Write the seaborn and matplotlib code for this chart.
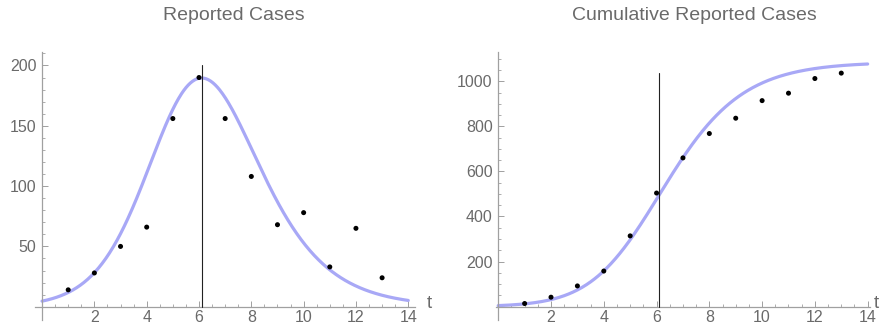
import numpy as np
import pandas as pd
import matplotlib
matplotlib.use("Agg")
import matplotlib.pyplot as plt
import seaborn as sns

# ---- data ----
days = [1, 2, 3, 4, 5, 6, 7, 8, 9, 10, 11, 12, 13]
reported = [14, 28, 50, 66, 156, 190, 156, 108, 68, 78, 33, 65, 24]
cumulative = [14, 42, 92, 158, 314, 504, 660, 768, 836, 914, 947, 1012, 1036]

# fitted growth-model parameters (Richards curve) estimated from the drawn curves
K_FIT = 1085.0     # final size
R_FIT = 1.02       # early growth rate
NU_FIT = 0.6       # shape parameter
TM_FIT = 6.1       # inflection / peak time

peak_time = 6.1
vline_top_left = 200
vline_top_right = 1035

x_major = [2, 4, 6, 8, 10, 12, 14]
y_major_left = [50, 100, 150, 200]
y_major_right = [200, 400, 600, 800, 1000]

titles = ["Reported Cases", "Cumulative Reported Cases"]

# ---- model curves ----
t_grid = np.linspace(0, 14, 500)
u = 1 + NU_FIT * np.exp(-R_FIT * NU_FIT * (t_grid - TM_FIT))
C_curve = K_FIT * u ** (-1 / NU_FIT)
f_curve = R_FIT * C_curve * (1 - 1 / u)

pts = pd.DataFrame({"t": days, "reported": reported, "cumulative": cumulative})
curves = pd.DataFrame({"t": t_grid, "f": f_curve, "C": C_curve})

sns.set_style("white")
plt.rcParams["font.family"] = ["Liberation Sans", "DejaVu Sans"]

CURVE_COLOR = "#a8a8f6"
AXIS_COLOR = "#a0a0a0"
TEXT_COLOR = "#6a6a6a"

W, H = 891, 335
fig = plt.figure(figsize=(W / 100, H / 100), dpi=100)

axL = fig.add_axes([35 / W, (H - 320) / H, (414.8 - 35) / W, (320 - 52.2) / H])
axR = fig.add_axes([495.6 / W, (H - 320.2) / H, (870.3 - 495.6) / W, (320.2 - 51.7) / H])


def style_axis(ax, xlim, ylim, ymaj, yminor):
    ax.set_xlim(*xlim)
    ax.set_ylim(*ylim)
    for s in ["top", "right"]:
        ax.spines[s].set_visible(False)
    ax.spines["left"].set_position(("data", 0))
    ax.spines["bottom"].set_position(("data", 0))
    for s in ["left", "bottom"]:
        ax.spines[s].set_color(AXIS_COLOR)
        ax.spines[s].set_linewidth(0.9)
    ax.set_xticks(x_major)
    ax.set_xticks([v / 2 for v in range(1, 29) if v % 4 != 0], minor=True)
    ax.set_yticks(ymaj)
    ax.set_yticks(yminor, minor=True)
    ax.tick_params(which="both", bottom=True, left=True, top=False, right=False)
    ax.tick_params(which="major", direction="in", length=4.0, width=0.7,
                   color=AXIS_COLOR, labelcolor=TEXT_COLOR, labelsize=11.5)
    ax.tick_params(which="minor", direction="in", length=2.2, width=0.6,
                   color=AXIS_COLOR)
    ax.tick_params(axis="x", which="major", pad=2.5)
    ax.tick_params(axis="y", which="major", pad=4)
    ax.set_xlabel("")
    ax.set_ylabel("")
    ax.patch.set_alpha(0)


# left panel
sns.lineplot(data=curves, x="t", y="f", ax=axL, color=CURVE_COLOR, lw=2.3,
             zorder=2, legend=False)
axL.plot([peak_time, peak_time], [0, vline_top_left], color="#222222", lw=0.8, zorder=3)
sns.scatterplot(data=pts, x="t", y="reported", ax=axL, color="black", s=13,
                edgecolor="none", zorder=4, legend=False)
style_axis(axL, (-0.27, 14.25), (-11, 211), y_major_left,
           [v for v in range(10, 211, 10) if v % 50 != 0])

# right panel
sns.lineplot(data=curves, x="t", y="C", ax=axR, color=CURVE_COLOR, lw=2.3,
             zorder=2, legend=False)
axR.plot([peak_time, peak_time], [0, vline_top_right], color="#222222", lw=0.8, zorder=3)
sns.scatterplot(data=pts, x="t", y="cumulative", ax=axR, color="black", s=13,
                edgecolor="none", zorder=4, legend=False)
style_axis(axR, (-0.1, 14.1), (-60, 1131), y_major_right,
           [v for v in range(50, 1101, 50) if v % 200 != 0])

# titles and axis labels
fig.text(234 / W, 1 - 15 / H, titles[0], ha="center", va="center",
         color=TEXT_COLOR, fontsize=14)
fig.text(694 / W, 1 - 15 / H, titles[1], ha="center", va="center",
         color=TEXT_COLOR, fontsize=14)
fig.text(429 / W, 1 - 304 / H, "t", ha="center", va="center",
         color=TEXT_COLOR, fontsize=13.5)
fig.text(876 / W, 1 - 304 / H, "t", ha="center", va="center",
         color=TEXT_COLOR, fontsize=13.5)

fig.savefig("out.png", dpi=100)
